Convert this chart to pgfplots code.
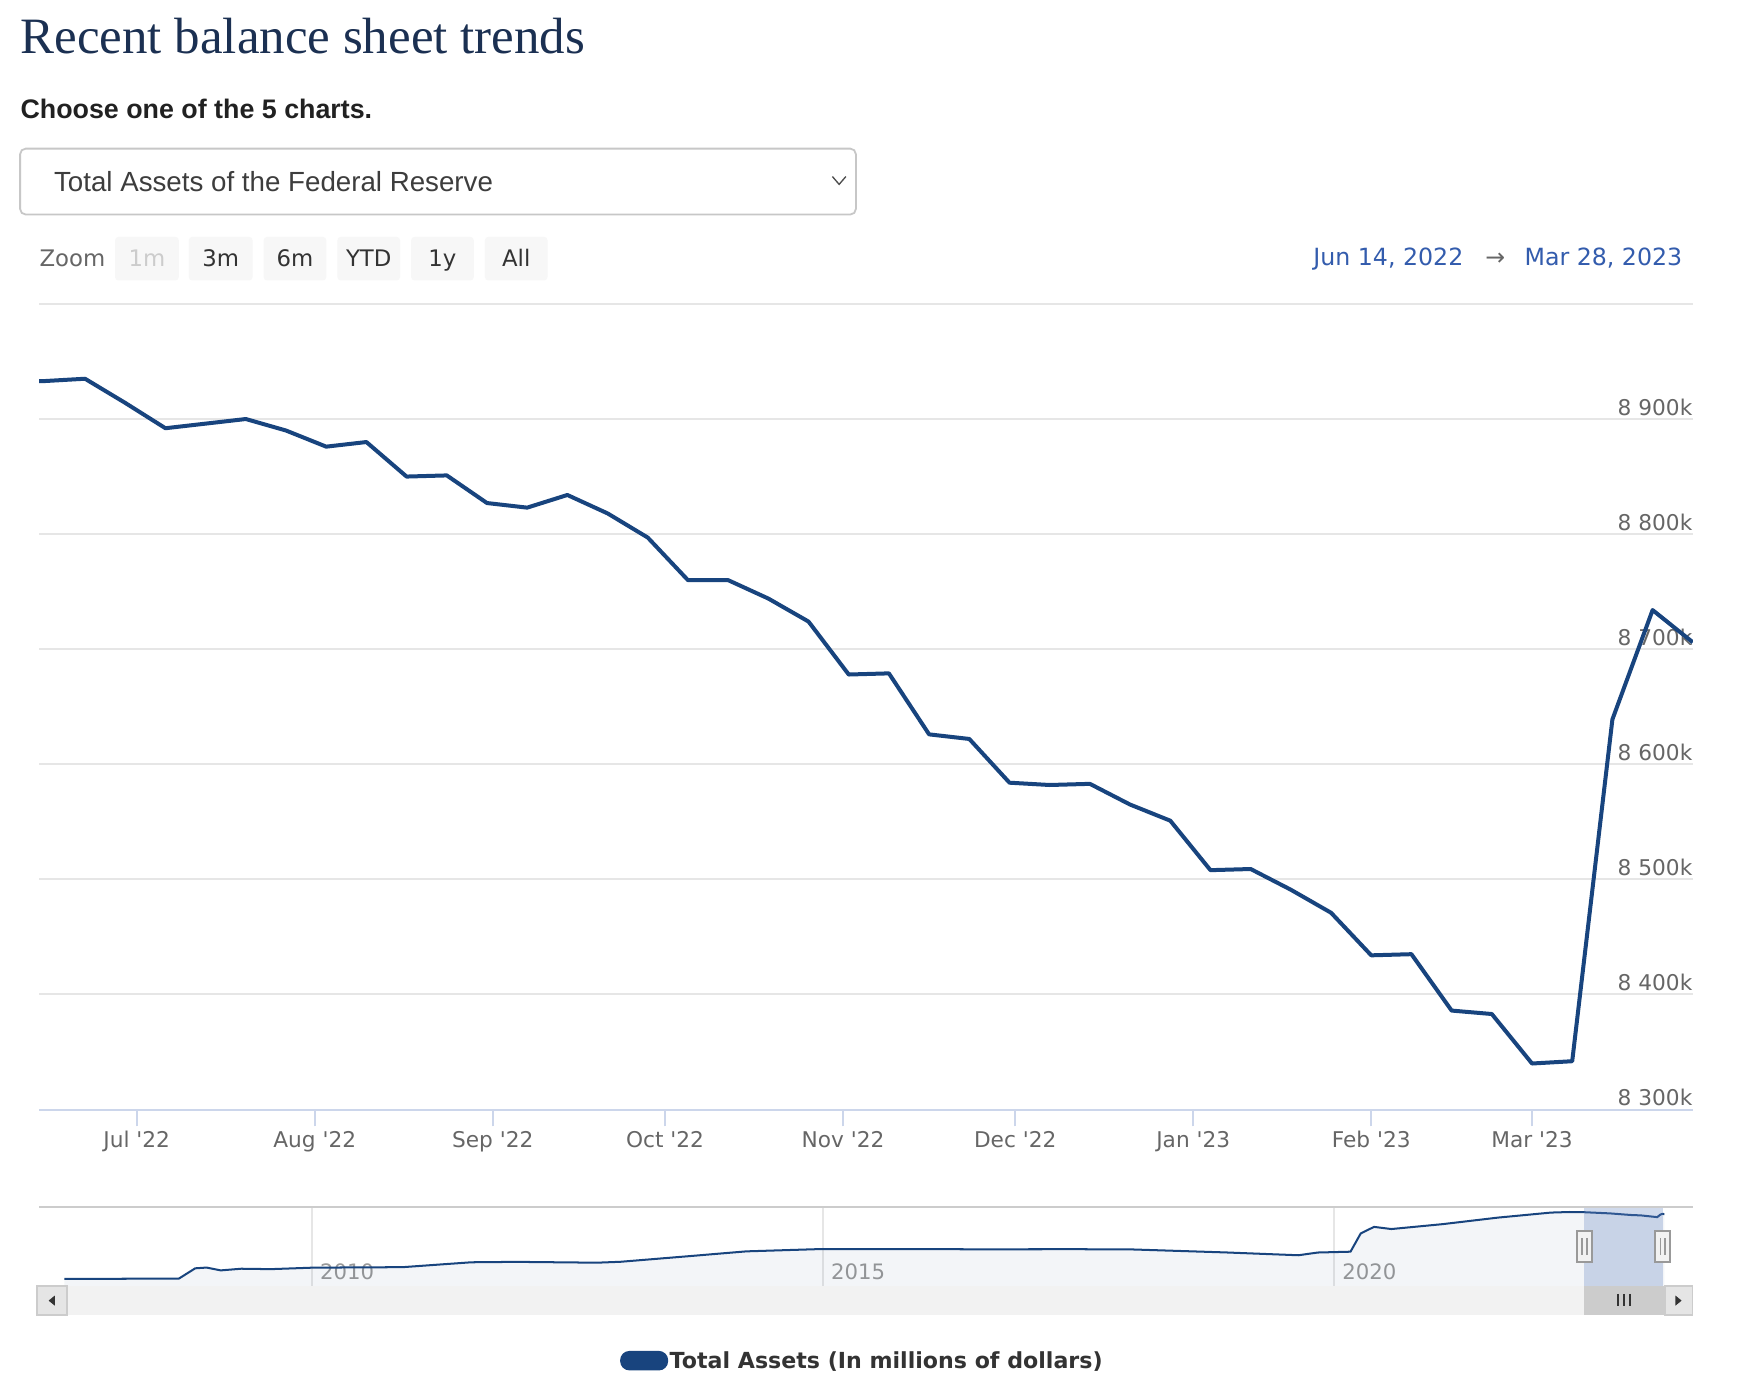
\documentclass[border=0pt]{standalone}
\usepackage{fontspec}
\usepackage{pgfplots}
\pgfplotsset{compat=1.18}
\newfontfamily\cf{DejaVu Sans}
\newfontfamily\hv{Liberation Sans}
\newfontfamily\ser{Liberation Serif}
\definecolor{lineblue}{RGB}{24,68,126}
\definecolor{titlenavy}{RGB}{27,48,82}
\definecolor{gridgray}{HTML}{E6E6E6}
\definecolor{axisblue}{HTML}{CCD6EB}
\definecolor{labelgray}{HTML}{666666}
\definecolor{rangeblue}{HTML}{335CAD}
\definecolor{navgray}{HTML}{999999}
\definecolor{btn}{HTML}{F7F7F7}
\definecolor{maskc}{RGB}{102,133,194}

% weekly total assets, days after Jun 14 2022, thousands of millions
\pgfplotstableread{
day value
0   8933
1   8933
8   8935
15  8914
22  8892
29  8896
36  8900
43  8890
50  8876
57  8880
64  8850
71  8851
78  8827
85  8823
92  8834
99  8818
106 8797
113 8760
120 8760
127 8744
134 8724
141 8678
148 8679
155 8626
162 8622
169 8584
176 8582
183 8583
190 8565
197 8551
204 8508
211 8509
218 8491
225 8471
232 8434
239 8435
246 8386
253 8383
260 8340
267 8342
274 8639
281 8734
288 8706
}\weekly

% navigator, whole history
\pgfplotstableread{
year value
2007.58 870
2008.70 905
2008.86 2150
2008.97 2240
2009.11 1900
2009.31 2100
2009.60 2050
2010.01 2230
2010.89 2290
2011.56 2880
2012.00 2930
2012.79 2830
2013.02 2940
2013.69 3620
2014.25 4200
2014.98 4480
2015.75 4480
2016.50 4450
2017.50 4460
2018.03 4430
2018.94 4070
2019.65 3730
2019.84 4060
2020.16 4160
2020.26 6370
2020.39 7160
2020.56 6900
2021.06 7490
2021.60 8280
2022.12 8890
2022.30 8960
2022.45 8933
2022.70 8790
2022.90 8600
2023.00 8550
2023.16 8340
2023.19 8640
2023.21 8734
2023.23 8706
}\history

\begin{document}
\begin{tikzpicture}
\begin{scope}[x=0.5pt,y=-0.5pt]
\useasboundingbox[fill=white] (0,0) rectangle (1568,1249.4);

% header
\node[anchor=base west, inner sep=0pt, text=titlenavy, font=\ser\fontsize{22.8}{26}\selectfont] at (18,48) {Recent balance sheet trends};
\node[anchor=base west, inner sep=0pt, text=black!87, font=\hv\bfseries\fontsize{12}{14}\selectfont] at (18,106) {Choose one of the 5 charts.};
\draw[black!22, line width=0.8pt, rounded corners=2.5pt] (18,133) rectangle (766,192);
\node[anchor=base west, inner sep=0pt, text=black!76, font=\hv\fontsize{12.4}{14}\selectfont] at (48,171) {Total Assets of the Federal Reserve};
\draw[black!70, line width=0.6pt] (745,158) -- (751,165) -- (757,158);

% range selector
\node[anchor=base west, inner sep=0pt, text=labelgray, font=\cf\fontsize{10.2}{12}\selectfont] at (35,238.5) {Zoom};
\foreach \a/\b/\t/\c in {103/160/1m/black!20, 169/226/3m/black!80, 236/292/6m/black!80, 302/358/YTD/black!80, 368/424/1y/black!80, 434/490/All/black!80}{
  \fill[btn, rounded corners=1.5pt] (\a,212) rectangle (\b,251);
  \node[anchor=base, inner sep=0pt, text=\c, font=\cf\fontsize{10.2}{12}\selectfont] at ({(\a+\b)/2},238.5) {\t};
}
\node[anchor=base west, inner sep=0pt, text=rangeblue, font=\cf\fontsize{10.6}{12}\selectfont] at (1175,238) {Jun 14, 2022};
\node[anchor=base west, inner sep=0pt, text=labelgray, font=\cf\fontsize{10.6}{12}\selectfont] at (1329,238) {→};
\node[anchor=base east, inner sep=0pt, text=rangeblue, font=\cf\fontsize{10.6}{12}\selectfont] at (1506,238) {Mar 28, 2023};
\end{scope}

% main chart
\begin{axis}[
  at={(17.5pt,-496.5pt)}, anchor=south west,
  width=740pt, height=360.5pt, scale only axis,
  xmin=0, xmax=288, ymin=8300, ymax=9000,
  axis x line*=bottom, axis y line*=right,
  x axis line style={-, axisblue, line width=0.9pt},
  y axis line style={draw=none},
  xtick={17,48,79,109,140,170,201,232,260},
  xticklabels={Jul \textquotesingle22, Aug \textquotesingle22, Sep \textquotesingle22, Oct \textquotesingle22, Nov \textquotesingle22, Dec \textquotesingle22, Jan \textquotesingle23, Feb \textquotesingle23, Mar \textquotesingle23},
  xtick style={axisblue, line width=0.9pt},
  tick align=outside, major tick length=7.5pt,
  xticklabel style={anchor=base, inner sep=0pt, yshift=-9.5pt, text=labelgray, font=\cf\fontsize{9.7}{11}\selectfont},
  ytick={8300,8400,...,9000},
  yticklabels={8 300k,8 400k,8 500k,8 600k,8 700k,8 800k,8 900k,{}},
  ytick style={draw=none},
  yticklabel style={anchor=base east, inner sep=0pt, xshift=-7.5pt, yshift=1.8pt, text=labelgray, font=\cf\fontsize{9.7}{11}\selectfont},
  ymajorgrids, grid style={gridgray, line width=0.9pt},
  clip=true,
]
\addplot[lineblue, line width=1.79pt, line join=round] table[x=day, y=value] {\weekly};
\end{axis}

% navigator
\begin{axis}[
  at={(17.5pt,-575.5pt)}, anchor=south west,
  width=740pt, height=35.5pt, scale only axis,
  xmin=2007.333, xmax=2023.508, ymin=0, ymax=9595,
  axis line style={draw=none}, tick style={draw=none},
  xtick={2010,2015,2020}, xticklabels={2010,2015,2020},
  ytick=\empty,
  xmajorgrids, grid style={gridgray, line width=0.9pt},
  xticklabel style={anchor=base west, inner sep=0pt, xshift=3.5pt, yshift=3pt, text=navgray, font=\cf\fontsize{9.5}{11}\selectfont},
]
\addplot[draw=none, fill=lineblue, fill opacity=0.05] table[x=year, y=value] {\history} \closedcycle;
\addplot[lineblue, line width=0.9pt] table[x=year, y=value] {\history};
\fill[maskc, opacity=0.3] (2022.448,0) rectangle (2023.213,9595);
\end{axis}

\begin{scope}[x=0.5pt,y=-0.5pt]
\draw[black!20, line width=0.9pt] (35,1080) -- (1515,1080);

% scrollbar
\fill[black!5] (33,1151) rectangle (1515,1177);
\fill[black!20] (1418,1151) rectangle (1490,1177);
\filldraw[fill=black!10, draw=black!20, line width=0.6pt] (33,1151) rectangle (60,1177);
\filldraw[fill=black!10, draw=black!20, line width=0.6pt] (1490,1151) rectangle (1515,1177);
\fill[black!80] (43.5,1164) -- (49,1159.5) -- (49,1168.5) -- cycle;
\fill[black!80] (1505,1164) -- (1499.5,1159.5) -- (1499.5,1168.5) -- cycle;
\foreach \g in {1448,1453.5,1459} \draw[black!80, line width=0.9pt] (\g,1158) -- (\g,1169);

% navigator handles
\foreach \h in {1418,1488}{
  \filldraw[fill=black!5, draw=navgray, line width=0.9pt] (\h-7,1102) rectangle (\h+7,1129);
  \draw[navgray, line width=0.8pt] (\h-2,1108) -- (\h-2,1123) (\h+2,1108) -- (\h+2,1123);
}

% legend
\fill[lineblue, rounded corners=4.2pt] (555,1209) rectangle (598,1226.5);
\node[anchor=base west, inner sep=0pt, text=black!80, font=\cf\bfseries\fontsize{9.9}{11}\selectfont] at (599,1225) {Total Assets (In millions of dollars)};
\end{scope}
\end{tikzpicture}
\end{document}
